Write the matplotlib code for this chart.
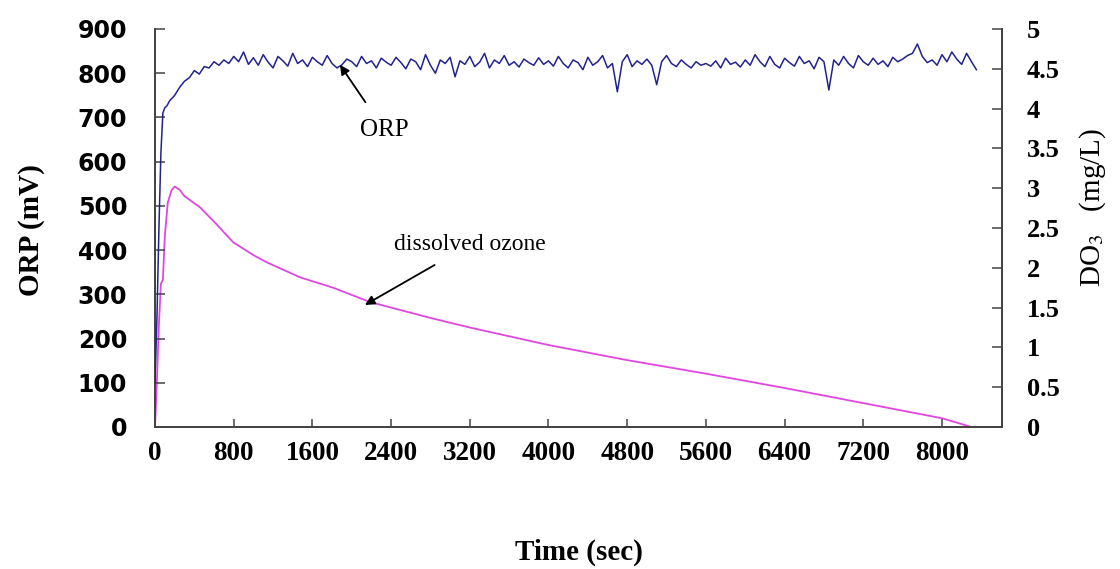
import numpy as np
import matplotlib
matplotlib.use("Agg")
import matplotlib.pyplot as plt

plt.rcParams['mathtext.fontset'] = 'stix'

# ---------------- data ----------------
orp_time_start = [0, 20, 40, 60, 80, 100, 120]
orp_start = [100, 250, 450, 620, 710, 722, 726]
orp_time_grid = np.arange(150, 8351, 50)
orp_values = [
    738, 750, 768, 782, 790, 806, 798, 815, 812, 826, 818, 830, 822, 838, 826, 848, 820,
    835, 818, 842, 825, 812, 838, 828, 816, 845, 822, 830, 815, 836, 826, 818, 840, 822, 812, 819, 832,
    826, 815, 838, 822, 828, 812, 834, 825, 818, 836, 824, 810, 832, 826, 808, 842, 818, 800, 830, 822,
    836, 792, 828, 820, 838, 815, 825, 845, 812, 830, 822, 840, 818, 826, 814, 832, 824, 818, 835, 820,
    828, 816, 838, 822, 812, 830, 824, 808, 836, 818, 826, 840, 812, 822, 758, 826, 842, 815, 828, 820,
    832, 818, 774, 826, 840, 822, 815, 830, 820, 812, 826, 818, 822, 816, 828, 812, 834, 820, 825, 814,
    830, 818, 842, 826, 815, 838, 820, 812, 834, 824, 816, 838, 822, 828, 810, 836, 826, 762, 830, 818,
    838, 822, 812, 840, 826, 818, 834, 820, 828, 815, 836, 826, 832, 840, 845, 866, 838, 824, 830, 818,
    842, 826, 848, 832, 820, 845, 826, 808,
]
orp_time = list(orp_time_start) + list(orp_time_grid)
orp = orp_start + orp_values

do3_time = [0, 20, 40, 60, 80, 100, 130, 170, 200, 250, 300, 457, 600, 795, 1000, 1135,
            1475, 1810, 2185, 2400, 2800, 3200, 3600, 4000, 4800, 5600, 6400, 7200, 8000, 8300]
do3 = [0.0, 0.6, 1.3, 1.8, 1.85, 2.4, 2.82, 2.98, 3.02, 2.98, 2.9, 2.76, 2.58, 2.32, 2.16, 2.07,
       1.88, 1.75, 1.57, 1.50, 1.37, 1.25, 1.14, 1.03, 0.84, 0.67, 0.49, 0.30, 0.11, 0.0]

x_ticks = [0, 800, 1600, 2400, 3200, 4000, 4800, 5600, 6400, 7200, 8000]
orp_ticks = [0, 100, 200, 300, 400, 500, 600, 700, 800, 900]
do3_ticks = [0, 0.5, 1, 1.5, 2, 2.5, 3, 3.5, 4, 4.5, 5]
do3_labels = ['0', '0.5', '1', '1.5', '2', '2.5', '3', '3.5', '4', '4.5', '5']

# ---------------- figure ----------------
fig = plt.figure(figsize=(11.2, 5.69), dpi=100)
ax = fig.add_axes([155/1120, 1-427/569, (1002-155)/1120, (427-29)/569])
ax2 = ax.twinx()

ax2.plot(do3_time, do3, color='#e047e0', lw=1.3, zorder=2)
ax.plot(orp_time, orp, color='#22228f', lw=1.1, zorder=3)
ax.set_zorder(ax2.get_zorder() + 1)
ax.patch.set_visible(False)

ax.set_xlim(0, 8610)
ax.set_ylim(0, 900)
ax2.set_ylim(0, 5)

spine_col = '#444444'
for a in (ax, ax2):
    for s in a.spines.values():
        s.set_color(spine_col)
        s.set_linewidth(1.3)
    a.spines['top'].set_visible(False)

ax.set_xticks(x_ticks)
ax.set_xticklabels([str(v) for v in x_ticks], fontfamily='Liberation Serif',
                   fontweight='bold', fontsize=19.5)
ax.set_yticks(orp_ticks)
ax.set_yticklabels([str(v) for v in orp_ticks], fontfamily='DejaVu Sans',
                   fontweight='bold', fontsize=17)
ax2.set_yticks(do3_ticks)
ax2.set_yticklabels(do3_labels, fontfamily='Liberation Serif', fontweight='bold', fontsize=19)

ax.tick_params(axis='x', direction='in', length=6, width=1.1, color=spine_col, pad=10)
ax.tick_params(axis='y', direction='in', length=7, width=1.1, color=spine_col, pad=20)
ax2.tick_params(axis='y', direction='in', length=7, width=1.1, color=spine_col, pad=18)

ax.set_xlabel('Time (sec)', fontfamily='Liberation Serif', fontweight='bold', fontsize=21, va='center')
ax.xaxis.set_label_coords(0.5, -(552-427)/398)
ax.set_ylabel('ORP (mV)', fontfamily='Liberation Serif', fontweight='bold', fontsize=21, va='center')
ax.yaxis.set_label_coords((31-155)/847, (427-230)/398)
ax2.set_ylabel('DO$_3$   (mg/L)', fontfamily='Liberation Serif', fontsize=21, va='center', rotation=90)
ax2.yaxis.set_label_coords((1093-155)/847, (427-207)/398)

ax.annotate('ORP', xy=(1880, 819), xytext=(2330, 672), fontsize=18,
            fontfamily='Liberation Serif', ha='center', va='center',
            arrowprops=dict(arrowstyle='-|>', color='black', lw=1.3, mutation_scale=14,
                            shrinkA=12, shrinkB=0))
ax.annotate('dissolved ozone', xy=(2134, 276), xytext=(3200, 412), fontsize=17,
            fontfamily='Liberation Serif', ha='center', va='center',
            arrowprops=dict(arrowstyle='-|>', color='black', lw=1.3, mutation_scale=14,
                            shrinkA=10, shrinkB=0))

fig.savefig('out.png', dpi=100)
